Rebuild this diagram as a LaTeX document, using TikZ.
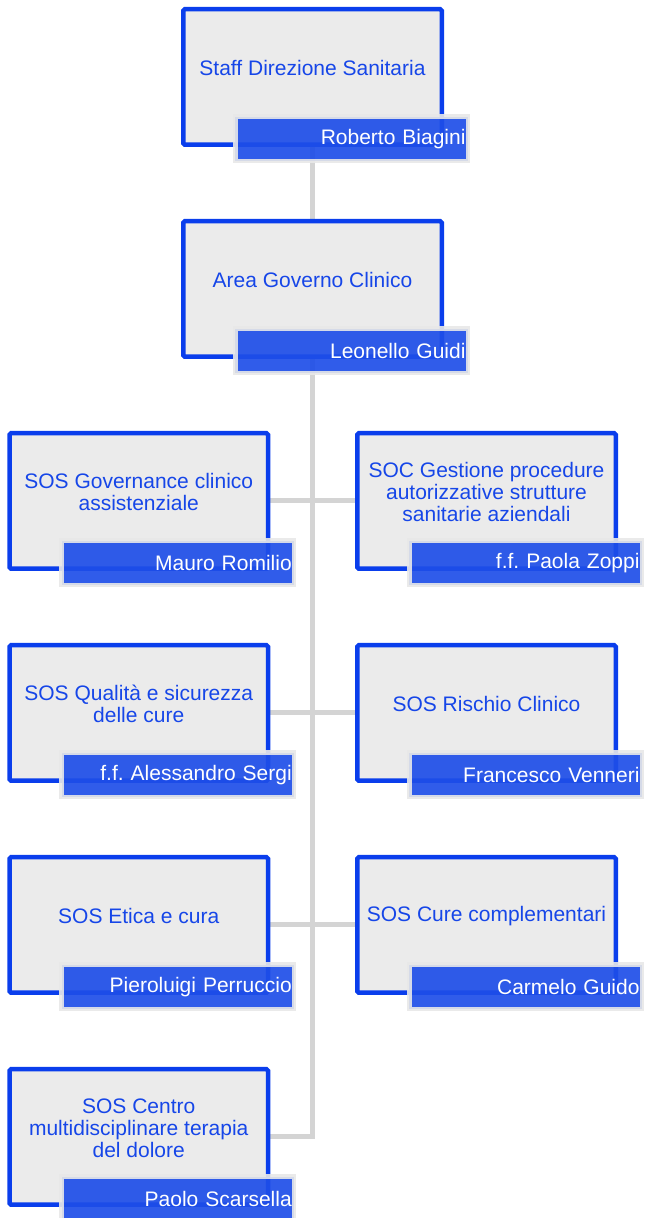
\documentclass[tikz,border=0pt]{standalone}
\usepackage{fontspec}
\setmainfont{Liberation Sans}
\frenchspacing
\usetikzlibrary{calc,backgrounds}

\definecolor{unitblue}{RGB}{10,62,236}
\definecolor{textblue}{RGB}{22,70,232}
\definecolor{barblue}{RGB}{30,78,232}
\definecolor{unitgray}{RGB}{235,235,235}
\definecolor{bargray}{RGB}{232,232,232}
\definecolor{linkgray}{RGB}{212,212,212}

\tikzset{
  unitbox/.style={draw=unitblue, fill=unitgray, line width=4.5pt, rounded corners=1.5pt,
    minimum width=258.5pt, minimum height=135.5pt, inner sep=0pt},
  unittext/.style={text=textblue, align=center, inner sep=0pt,
    font=\fontsize{21}{22}\selectfont},
  namebar/.style={draw=bargray, fill=barblue, fill opacity=0.92, draw opacity=0.9,
    text opacity=1, line width=4.5pt, text=white, text width=228pt, inner xsep=2.25pt,
    minimum height=44.5pt, align=right, font=\fontsize{21}{22}\selectfont\frenchspacing},
  link/.style={draw=linkgray, line width=5pt}
}

\begin{document}
\begin{tikzpicture}[x=1pt,y=1pt]
\useasboundingbox (0,0) rectangle (645,1218);

% direzione
\node[unitbox] (a) at (312.5,1141) {};
\node[unittext] (a-txt) at ($(a.center)+(0,9)$) {Staff Direzione Sanitaria};
\node[namebar] (a-name) at ($(a.south)+(39,8)$) {Roberto Biagini};

\node[unitbox] (b) at (312.5,929) {};
\node[unittext] (b-txt) at ($(b.center)+(0,9)$) {Area Governo Clinico};
\node[namebar] (b-name) at ($(b.south)+(39,8)$) {Leonello Guidi};

% strutture, colonna sinistra
\node[unitbox] (l1) at (138.75,717) {};
\node[unittext] (l1-txt) at ($(l1.center)+(0,9)$) {SOS Governance clinico\\assistenziale};
\node[namebar] (l1-name) at ($(l1.south)+(39,8)$) {Mauro Romilio};

\node[unitbox] (l2) at (138.75,505) {};
\node[unittext] (l2-txt) at ($(l2.center)+(0,9)$) {SOS Qualità e sicurezza\\delle cure};
\node[namebar] (l2-name) at ($(l2.south)+(39,8)$) {f.f. Alessandro Sergi};

\node[unitbox] (l3) at (138.75,293) {};
\node[unittext] (l3-txt) at ($(l3.center)+(0,9)$) {SOS Etica e cura};
\node[namebar] (l3-name) at ($(l3.south)+(39,8)$) {Pieroluigi Perruccio};

\node[unitbox] (l4) at (138.75,81) {};
\node[unittext] (l4-txt) at ($(l4.center)+(0,9)$) {SOS Centro\\multidisciplinare terapia\\del dolore};
\node[namebar] (l4-name) at ($(l4.south)+(39,8)$) {Paolo Scarsella};

% strutture, colonna destra
\node[unitbox] (r1) at (486.5,717) {};
\node[unittext] (r1-txt) at ($(r1.center)+(0,9)$) {SOC Gestione procedure\\autorizzative strutture\\sanitarie aziendali};
\node[namebar] (r1-name) at ($(r1.south)+(39,8)$) {f.f. Paola Zoppi};

\node[unitbox] (r2) at (486.5,505) {};
\node[unittext] (r2-txt) at ($(r2.center)+(0,9)$) {SOS Rischio Clinico};
\node[namebar] (r2-name) at ($(r2.south)+(39,8)$) {Francesco Venneri};

\node[unitbox] (r3) at (486.5,293) {};
\node[unittext] (r3-txt) at ($(r3.center)+(0,9)$) {SOS Cure complementari};
\node[namebar] (r3-name) at ($(r3.south)+(39,8)$) {Carmelo Guido};

% collegamenti
\begin{scope}[on background layer]
\draw[link] (a.south) -- (b.north);
\draw[link] (b.south) |- (l4.east);
\draw[link] (l1.east) -- (r1.west);
\draw[link] (l2.east) -- (r2.west);
\draw[link] (l3.east) -- (r3.west);
\end{scope}
\end{tikzpicture}
\end{document}
